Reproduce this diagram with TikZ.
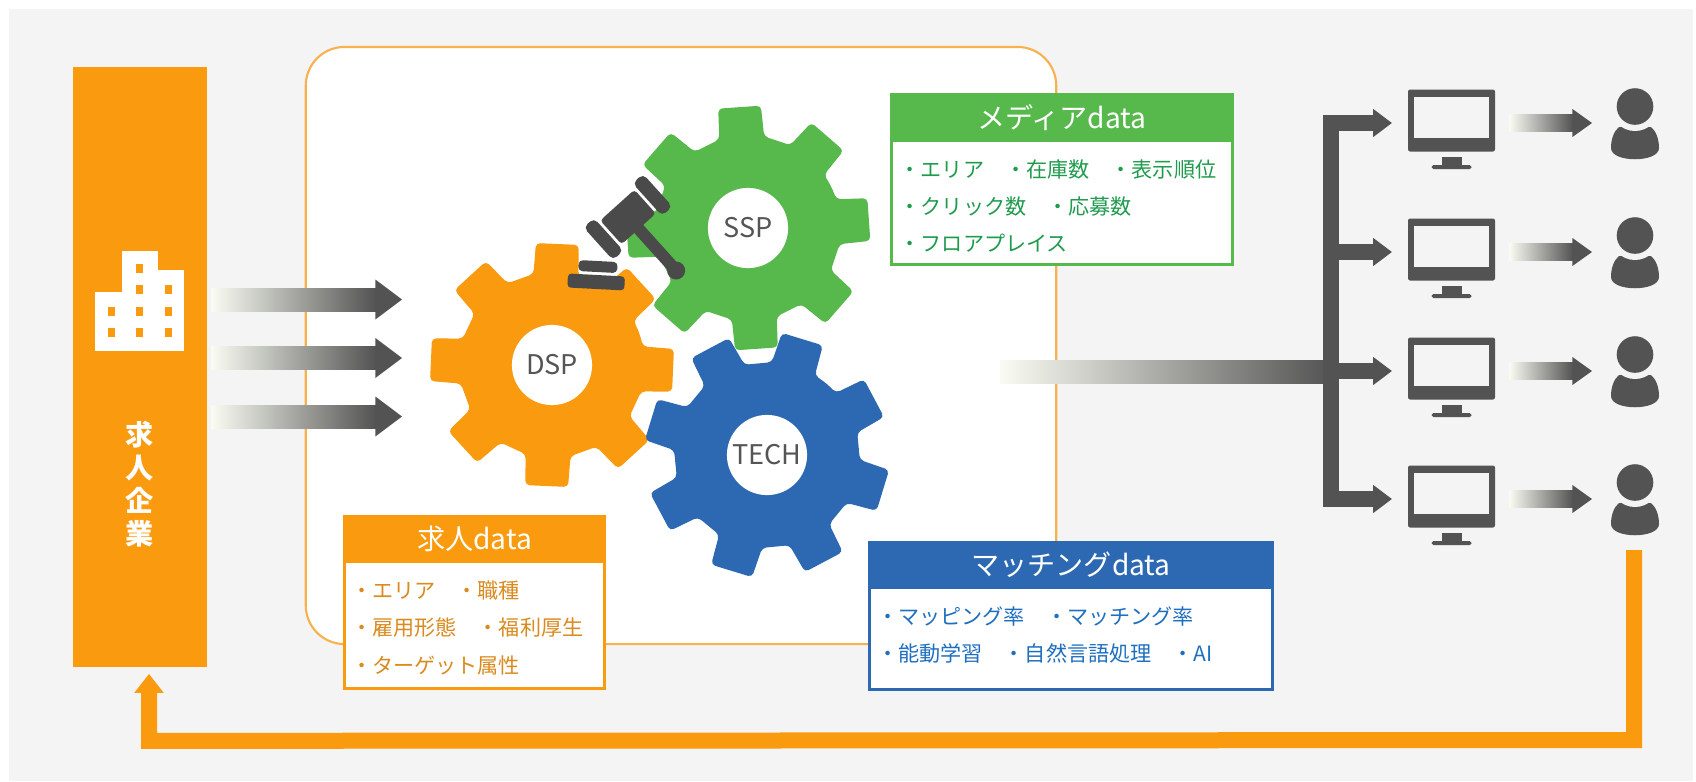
\documentclass[tikz,border=0pt]{standalone}
\usepackage{fontspec}
\setmainfont{Noto Sans CJK JP}
\usetikzlibrary{calc,arrows.meta}

\definecolor{bgGray}{HTML}{F4F4F4}
\definecolor{jobOrange}{HTML}{FA9A0F}
\definecolor{jobText}{HTML}{DA8A1E}
\definecolor{platformLine}{HTML}{F8B14E}
\definecolor{mediaGreen}{HTML}{57B84B}
\definecolor{mediaText}{HTML}{1F9B4E}
\definecolor{matchBlue}{HTML}{2D69B2}
\definecolor{matchText}{HTML}{1E6FC0}
\definecolor{iconGray}{HTML}{535353}
\definecolor{gavelGray}{HTML}{4A4A4A}
\definecolor{labelGray}{HTML}{555555}
\definecolor{fadeStart}{HTML}{FAFCF3}

% fat arrow: from, tip, half shaft, half head, head length
\newcommand{\fadearrow}[5]{%
  \shade[left color=fadeStart, right color=iconGray]
    ($(#1)+(0,-#3)$) rectangle ($(#2)+(-#5,#3)$);
  \fill[iconGray] ($(#2)+(-#5-0.6,-#4)$) -- (#2) -- ($(#2)+(-#5-0.6,#4)$) -- cycle;
}

% eight-tooth gear: centre, angle offset, colour
\newcommand{\gearshape}[3]{%
  \begin{scope}[shift={(#1)}]
    \fill[#3, rounded corners=1.2pt] (#2-22.5:93)
      \foreach \k in {0,...,7}{
        -- (#2+45*\k-14:93) -- (#2+45*\k-10:123)
        -- (#2+45*\k+10:123) -- (#2+45*\k+14:93)
      } -- cycle;
  \end{scope}
}

\tikzset{
  desktop/.pic={
    \fill[iconGray, rounded corners=0.6pt] (-43.5,-33.5) rectangle (43.5,28.5);
    \fill[bgGray] (-37.5,-26) rectangle (37.5,15);
    \fill[iconGray] (-10,34) rectangle (10,42.5);
    \fill[iconGray, rounded corners=0.5pt] (-20,42) rectangle (20,46);
  },
  member/.pic={
    \fill[iconGray] (-16,4) .. controls (-21,8) and (-24,16) .. (-24,25)
      .. controls (-24,40) and (24,40) .. (24,25)
      .. controls (24,16) and (21,8) .. (16,4) -- cycle;
    \fill[bgGray] (0,-16.5) circle (24.5);
    \fill[iconGray] (0,-16.5) circle (18.3);
  },
}

\begin{document}
\begin{tikzpicture}[x=0.01cm, y=-0.01cm,
  every node/.style={inner sep=0pt},
  companybox/.style={fill=jobOrange, minimum width=38.1pt, minimum height=170.7pt},
  platform/.style={draw=platformLine, line width=0.6pt, fill=white, rounded corners=11pt,
    minimum width=213.4pt, minimum height=169.8pt},
  hole/.style={circle, fill=white, minimum size=22.8pt, text=labelGray,
    font=\fontsize{7.7}{9}\selectfont},
  boxtitle/.style={text=white, font=\fontsize{8}{9}\selectfont},
  rowtext/.style={anchor=west, font=\fontsize{6}{7}\selectfont},
  thickbar/.style={line width=4.55pt},
]
\useasboundingbox (0,0) rectangle (1696,781);
\fill[white] (0,0) rectangle (1696,781);
\fill[bgGray] (9,9) rectangle (1693,781);

% company column
\node[companybox] (company) at (140,367) {};
\fill[white] (95,292) rectangle (122,351);
\fill[white] (122,251) rectangle (158,351);
\fill[white] (158,270) rectangle (184,351);
\foreach \wx/\wy in {108/307,108/328,136/264,136/285,136/307,136/328,165/285,165/307,165/328}
  \fill[jobOrange] (\wx,\wy) rectangle ++(7,9);
\node[font=\fontsize{8}{9.4}\selectfont\bfseries, text=white, align=center]
  (companyName) at (140,484) {求\\人\\企\\業};

\node[platform] (platform) at (681,345.5) {};

% job feeds into the platform
\coordinate (c1) at (211,299.5); \coordinate (p1) at (402,299.5);
\coordinate (c2) at (211,358);   \coordinate (p2) at (402,358);
\coordinate (c3) at (211,416.5); \coordinate (p3) at (402,416.5);
\fadearrow{c1}{p1}{11.5}{20}{26}
\fadearrow{c2}{p2}{11.5}{20}{26}
\fadearrow{c3}{p3}{11.5}{20}{26}

% gears
\gearshape{748,228}{-4}{mediaGreen}
\gearshape{552,365}{2.5}{jobOrange}
\gearshape{767,455}{-28}{matchBlue}
\node[hole] (ssp) at (748,228) {SSP};
\node[hole] (dsp) at (552,365) {DSP};
\node[hole] (tech) at (767,455) {TECH};

% gavel
\begin{scope}[shift={(628,217)}, rotate=42]
  \fill[gavelGray] (-6,14) rectangle (6,70);
  \fill[gavelGray] (0,72) circle (9);
  \fill[gavelGray, rounded corners=1pt] (-23,-16) rectangle (23,16);
  \fill[gavelGray, rounded corners=1.5pt] (-40,-22) rectangle (-26,22);
  \fill[gavelGray, rounded corners=1.5pt] (26,-22) rectangle (40,22);
\end{scope}
\begin{scope}[shift={(597,275)}, rotate=-3]
  \fill[gavelGray, rounded corners=1.2pt] (-19,-14) rectangle (20,-3);
  \fill[gavelGray, rounded corners=1pt] (-29,0) rectangle (28,14);
\end{scope}

% media data
\draw[mediaGreen, line width=0.85pt, fill=white] (891.5,94.5) rectangle (1232.5,264.5);
\fill[mediaGreen] (890,93) rectangle (1234,142);
\node[boxtitle] (mediaTitle) at (1062,117.5) {メディアdata};
\begin{scope}[text=mediaText]
  \node[rowtext] (mediaRowA) at (899,169) {・エリア　・在庫数　・表示順位};
  \node[rowtext] (mediaRowB) at (899,207) {・クリック数　・応募数};
  \node[rowtext] (mediaRowC) at (899,243) {・フロアプレイス};
\end{scope}

% job data
\draw[jobOrange, line width=0.85pt, fill=white] (344.5,516.5) rectangle (604.5,688.5);
\fill[jobOrange] (343,515) rectangle (606,563);
\node[boxtitle] (jobTitle) at (474.5,539) {求人data};
\begin{scope}[text=jobText]
  \node[rowtext] (jobRowA) at (350.5,590) {・エリア　・職種};
  \node[rowtext] (jobRowB) at (350.5,627) {・雇用形態　・福利厚生};
  \node[rowtext] (jobRowC) at (350.5,665) {・ターゲット属性};
\end{scope}

% matching data
\draw[matchBlue, line width=0.85pt, fill=white] (869.5,542.5) rectangle (1272.5,689.5);
\fill[matchBlue] (868,541) rectangle (1274,589);
\node[boxtitle] (matchTitle) at (1071,565) {マッチングdata};
\begin{scope}[text=matchText]
  \node[rowtext] (matchRowA) at (876.5,617) {・マッピング率　・マッチング率};
  \node[rowtext] (matchRowB) at (876.5,653) {・能動学習　・自然言語処理　・AI};
\end{scope}

% delivery to the screens
\coordinate (out) at (1000,371.5);
\coordinate (hub) at (1331,371.5);
\shade[left color=fadeStart, right color=iconGray] ($(out)+(0,-11.5)$) rectangle ($(hub)+(0,11.5)$);
\foreach \n/\ay in {1/123,2/252,3/371,4/499} {
  \coordinate (m\n) at (1451.5,\ay);
  \coordinate (u\n) at (1635,\ay);
  \coordinate (a\n) at ($(m\n)+(57.5,0)$);
  \coordinate (b\n) at ($(u\n)+(-43,0)$);
  \draw[thickbar, iconGray, -{Triangle[width=7.7pt,length=5.4pt]}]
    ($(m\n)+(-128.5,0)$) -- ($(m\n)+(-59.5,0)$);
  \pic at (m\n) {desktop};
  \fadearrow{a\n}{b\n}{8.5}{14}{19}
  \pic at (u\n) {member};
}
\draw[thickbar, iconGray] ($(m1)+(-120.5,-8)$) -- ($(m4)+(-120.5,8)$);

% feedback to the company
\draw[thickbar, jobOrange, line join=miter, -{Triangle[width=8pt,length=5.4pt]}]
  ($(u4)+(-1,51)$) -- ($(u4)+(-1,241)$) -- ($(company.south)+(9,73)$) -- ($(company.south)+(9,6)$);
\end{tikzpicture}
\end{document}
